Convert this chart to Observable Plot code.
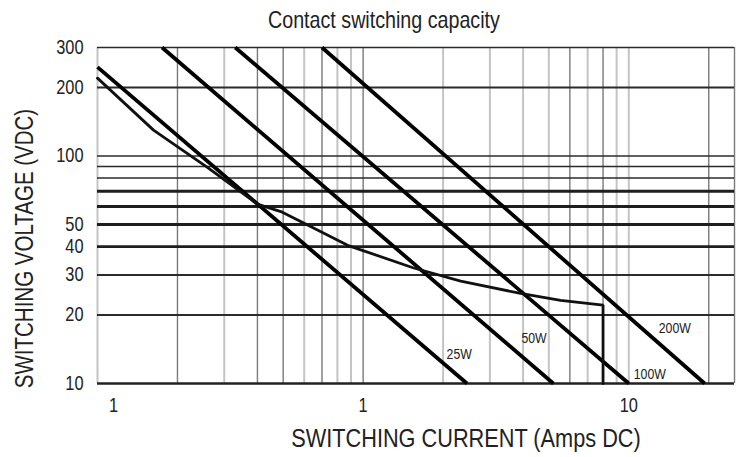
<!DOCTYPE html>
<html>
<head>
<meta charset="utf-8">
<script src="https://cdn.jsdelivr.net/npm/d3@7"></script>
<script src="https://cdn.jsdelivr.net/npm/@observablehq/plot@0.6"></script>
<style>
  body { margin: 0; background: #fff; }
  #wrap { width: 740px; height: 457px; position: relative; font-family: "Liberation Sans", Arial, sans-serif; }
  #title { position: relative; height: 36px; }
  #title span { position: absolute; left: 268px; top: 8px; font-size: 24px; line-height: 24px; color: #222; white-space: nowrap; transform: scaleX(0.82); transform-origin: 0 0; }
</style>
</head>
<body>
<div id="wrap">
  <div id="title"><span>Contact switching capacity</span></div>
  <div id="chart"></div>
</div>
<script>
// ---- data ----
const currentTicks = [0.1, 1, 10];
const currentTickLabels = ["1", "1", "10"];
const voltageTicks = [10, 20, 30, 40, 50, 100, 200, 300];

const vGridDark = [0.2, 0.4, 0.5, 0.7, 1, 6, 8, 20, 25];
const vGridLight = [0.1, 0.3, 0.6, 0.8, 0.9, 2, 3, 4, 5, 7, 9, 10];
const hGridThin = [300, 100, 90, 80];
const hGridMed = [200, 30, 20];
const hGridThick = [70, 60, 50, 40];
const hGridBase = [10];

// constant-power lines: [current, voltage] endpoints
const powerNames = ["25W", "50W", "100W", "200W"];
const powerStartI = [0.1, 0.175, 0.33, 0.70];
const powerStartV = [246, 300, 300, 300];
const powerEndI = [2.46, 5.2, 10, 19.3];
const powerEndV = [10, 10, 10, 10];
const powerLabelI = [2.3, 4.4, 12.0, 14.9];
const powerLabelV = [13.5, 15.8, 11.0, 17.5];

// contact switching capacity curve
const contactI = [0.1, 0.1625, 0.26, 0.40, 0.49, 0.634, 0.874, 1.55, 2.33, 3.91, 5.54, 8.0, 8.0];
const contactV = [220, 130, 89, 61.5, 57, 49, 40.5, 32.2, 28.2, 24.9, 23.2, 22.1, 10];

// ---- build tables ----
const powerLines = powerNames.flatMap((n, i) => [
  {name: n, I: powerStartI[i], V: powerStartV[i]},
  {name: n, I: powerEndI[i], V: powerEndV[i]}
]);
const powerLabels = powerNames.map((n, i) => ({name: n, I: powerLabelI[i], V: powerLabelV[i]}));
const contact = contactI.map((I, i) => ({I, V: contactV[i]}));
const fmtX = d => currentTickLabels[currentTicks.indexOf(d)];

const font = '"Liberation Sans", Arial, sans-serif';

const chart = Plot.plot({
  width: 740,
  height: 421,
  marginTop: 11,
  marginBottom: 74,
  marginLeft: 97,
  marginRight: 6,
  style: {fontFamily: font, color: "#222", background: "#fff"},
  x: {type: "log", domain: [0.1, 25], label: null},
  y: {type: "log", domain: [10, 300], label: null},
  marks: [
    Plot.ruleX(vGridLight, {stroke: "#c4c4c4", strokeWidth: 2}),
    Plot.ruleX(vGridDark, {stroke: "#7a7a7a", strokeWidth: 1.4}),
    Plot.ruleY(hGridThin, {stroke: "#2b2b2b", strokeWidth: 1.5}),
    Plot.ruleY(hGridMed, {stroke: "#2b2b2b", strokeWidth: 2}),
    Plot.ruleY(hGridThick, {stroke: "#1e1e1e", strokeWidth: 2.8}),
    Plot.ruleY(hGridBase, {stroke: "#222", strokeWidth: 2.4}),
    Plot.line(powerLines, {x: "I", y: "V", z: "name", stroke: "#000", strokeWidth: 3.8, strokeLinecap: "butt"}),
    Plot.line(contact, {x: "I", y: "V", stroke: "#111", strokeWidth: 2.8, strokeLinejoin: "miter"}),
    Plot.text(powerLabels, {x: "I", y: "V", text: "name", fontSize: 15, fill: "#222", textAnchor: "middle"}),
    Plot.axisY(voltageTicks, {tickSize: 0, tickPadding: 14, fontSize: 20, tickFormat: d => String(d), label: null, stroke: "#222", strokeWidth: 0.4}),
    Plot.axisX([currentTicks[0]], {tickSize: 0, tickPadding: 14, fontSize: 20, tickFormat: fmtX, dx: 16, label: null}),
    Plot.axisX(currentTicks.slice(1), {tickSize: 0, tickPadding: 14, fontSize: 20, tickFormat: fmtX, label: null}),
    Plot.text(["SWITCHING VOLTAGE (VDC)"], {frameAnchor: "left", rotate: -90, dx: -73, dy: 33, fontSize: 25, textAnchor: "middle", lineAnchor: "middle", fill: "#222"}),
    Plot.text(["SWITCHING CURRENT (Amps DC)"], {frameAnchor: "bottom", dx: 50, dy: 55, fontSize: 26.5, textAnchor: "middle", lineAnchor: "middle", fill: "#222"})
  ]
});
// condense all text horizontally (narrow typeface look)
chart.querySelectorAll("text").forEach(t => {
  const tr = t.getAttribute("transform");
  if (tr) t.setAttribute("transform", tr + " scale(0.82,1)");
  else {
    const x = +t.getAttribute("x") || 0, y = +t.getAttribute("y") || 0;
    t.removeAttribute("x"); t.removeAttribute("y");
    t.setAttribute("transform", `translate(${x},${y}) scale(0.82,1)`);
  }
});
document.getElementById("chart").appendChild(chart);
</script>
</body>
</html>
